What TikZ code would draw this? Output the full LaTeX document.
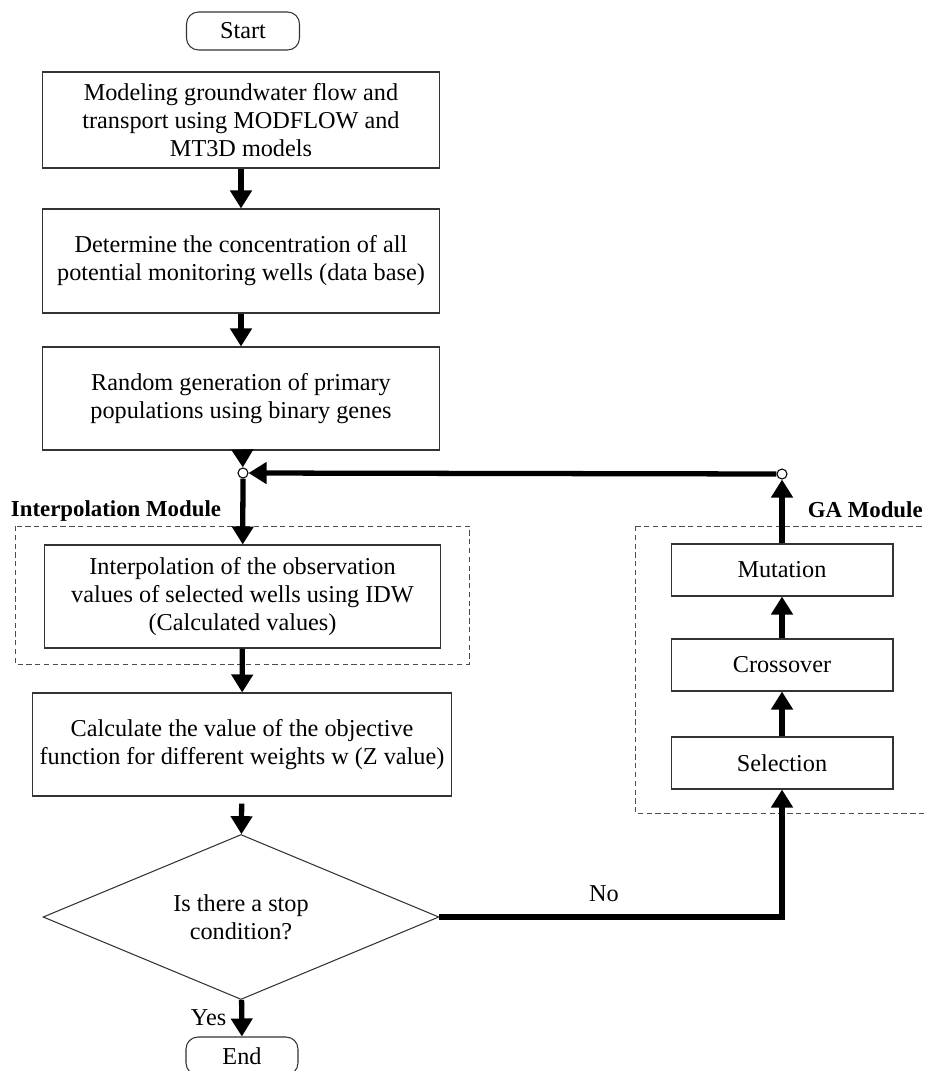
\documentclass[tikz,border=0pt]{standalone}
\usepackage{fontspec}
\setmainfont{Liberation Serif}
\usetikzlibrary{arrows.meta,shapes.geometric,positioning}

\tikzset{
	box/.style={draw=black!80, line width=0.6pt, align=center, inner sep=0pt},
	term/.style={box, rounded corners=0.24cm, minimum width=2.26cm, minimum height=0.76cm},
	flow/.style={line width=3pt, -{Triangle[width=0.42cm,length=0.36cm]}},
	modbox/.style={draw=black!70, line width=0.5pt, densely dashed},
	modlabel/.style={font=\fontsize{13}{15}\selectfont\bfseries, inner sep=0pt},
	joint/.style={circle, draw, line width=0.6pt, fill=white, minimum size=0.2cm, inner sep=0pt}
}

\begin{document}
\begin{tikzpicture}[x=0.02cm, y=-0.02cm, font=\fontsize{13.8}{16}\selectfont]
	%% frame of the page
	\useasboundingbox (0,0) rectangle (925,1071);

	%% module frames
	\draw[modbox] (15,526) rectangle (469,664);
	\draw[modbox] (635,526) rectangle (935,813);
	\node[modlabel] (labInterp) at (116,511) {Interpolation Module};
	\node[modlabel, anchor=east] (labGA) at (923,510) {GA Module};

	%% main column
	\node[term] (start) at (243,31) {Start};
	\node[box, minimum width=7.96cm, minimum height=1.92cm] (model) at (241,120)
		{Modeling groundwater flow and\\ transport using MODFLOW and\\ MT3D models};
	\node[box, minimum width=7.96cm, minimum height=2.08cm] (conc) at (241,261)
		{Determine the concentration of all\\ potential monitoring wells (data base)};
	\node[box, minimum width=7.96cm, minimum height=2.06cm] (rand) at (241,398.5)
		{Random generation of primary\\ populations using binary genes};
	\node[joint] (jIn) at (243,473) {};
	\node[box, minimum width=7.94cm, minimum height=2.06cm] (interp) at (242.5,596.5)
		{Interpolation of the observation\\ values of selected wells using IDW\\ (Calculated values)};
	\node[box, minimum width=8.4cm, minimum height=2.06cm] (obj) at (242,744.5)
		{Calculate the value of the objective\\ function for different weights w (Z value)};
	\node[diamond, aspect=2.4, draw=black!80, line width=0.6pt, align=center, inner sep=0pt,
		minimum width=7.92cm, minimum height=3.3cm] (stop) at (241,917)
		{Is there a stop\\ condition?};
	\node[term, minimum width=2.24cm] (end) at (242,1056) {End};

	%% GA column
	\node[box, minimum width=4.44cm, minimum height=1.04cm] (sel) at (782,763) {Selection};
	\node[box, minimum width=4.44cm, minimum height=1.04cm] (cross) at (782,665) {Crossover};
	\node[box, minimum width=4.44cm, minimum height=1.04cm] (mut) at (782,570) {Mutation};
	\node[joint] (jGA) at (782,474) {};

	%% connectors
	\draw[flow] (model) -- (conc);
	\draw[flow] (conc) -- (rand);
	\draw[flow] (rand) -- (jIn);
	\draw[flow] (jIn) -- (interp);
	\draw[flow] (interp) -- (obj);
	\draw[flow, shorten <=4pt] (obj) -- (stop);
	\draw[flow] (stop) -- node[left=4pt] (yes) {Yes} (end);
	\draw[flow] (stop.east) -| node[pos=0.24, above=4pt] (no) {No} (sel.south);
	\draw[flow] (sel) -- (cross);
	\draw[flow] (cross) -- (mut);
	\draw[flow] (mut) -- (jGA);
	\draw[flow] (jGA) -- (jIn);
\end{tikzpicture}
\end{document}
